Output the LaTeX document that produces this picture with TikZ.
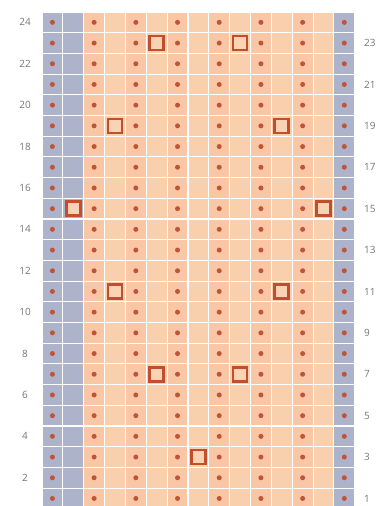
\documentclass[tikz,border=0pt]{standalone}
\usepackage{fontspec}
\setmainfont{Open Sans}
\definecolor{peach}{HTML}{F9C6A6}
\definecolor{peachlt}{HTML}{F9D0AE}
\definecolor{bluegray}{HTML}{ACB3CB}
\definecolor{dotc}{HTML}{BF5536}
\definecolor{sqc}{HTML}{C44E2C}
\definecolor{sqfill}{HTML}{FAD2B4}
\definecolor{lbl}{HTML}{767676}
\tikzset{
  gridline/.style={white, line width=1.1pt},
  stitchdot/.style={fill=dotc},
  markbox/.style={draw=sqc, fill=sqfill, line width=2.6pt, minimum size=14pt, inner sep=0pt},
  rowlabel/.style={text=lbl, font=\fontsize{10}{12}\selectfont, inner sep=0pt}
}
\begin{document}
\begin{tikzpicture}[x=1pt,y=-1pt]
\useasboundingbox (0,0) rectangle (382,506);
\pgfmathsetmacro{\cw}{20.85}
\pgfmathsetmacro{\rh}{20.7}
\begin{scope}
\clip (0,0) rectangle (382,506);
% background cells
\fill[peach] (42,12) rectangle (354.75,509);
\foreach \c in {4,6,...,14} {
  \fill[peachlt] ({42+(\c-1)*\cw},12) rectangle ({42+\c*\cw},509);
}
\fill[bluegray] (42,12) rectangle ({42+2*\cw},509);
\fill[bluegray] ({42+14*\cw},12) rectangle ({42+15*\cw},509);
% grid lines
\foreach \i in {0,...,15} \draw[gridline] ({42+\i*\cw},12) -- ++(0,497);
\foreach \j in {0,...,24} \draw[gridline] (42,{12+\j*\rh}) -- ++(312.75,0);
% dots
\foreach \r in {1,...,24} {
  \foreach \c in {1,3,...,15} {
    \fill[stitchdot] ({42+(\c-0.5)*\cw},{12+(24-\r+0.5)*\rh}) circle (2.5);
  }
}
% marked cells
\foreach \c/\r [count=\k] in {6/23,10/23,4/19,12/19,2/15,14/15,4/11,12/11,6/7,10/7,8/3} {
  \node[markbox] (m\k) at ({42+(\c-0.5)*\cw},{12+(24-\r+0.5)*\rh}) {};
}
\end{scope}
% row labels
\foreach \r in {2,4,...,24} {
  \node[rowlabel] (L\r) at (25,{12+(24-\r+0.5)*\rh}) {\r};
}
\foreach \r in {1,3,...,23} {
  \node[rowlabel, anchor=west] (R\r) at (364,{12+(24-\r+0.5)*\rh}) {\r};
}
\end{tikzpicture}
\end{document}
